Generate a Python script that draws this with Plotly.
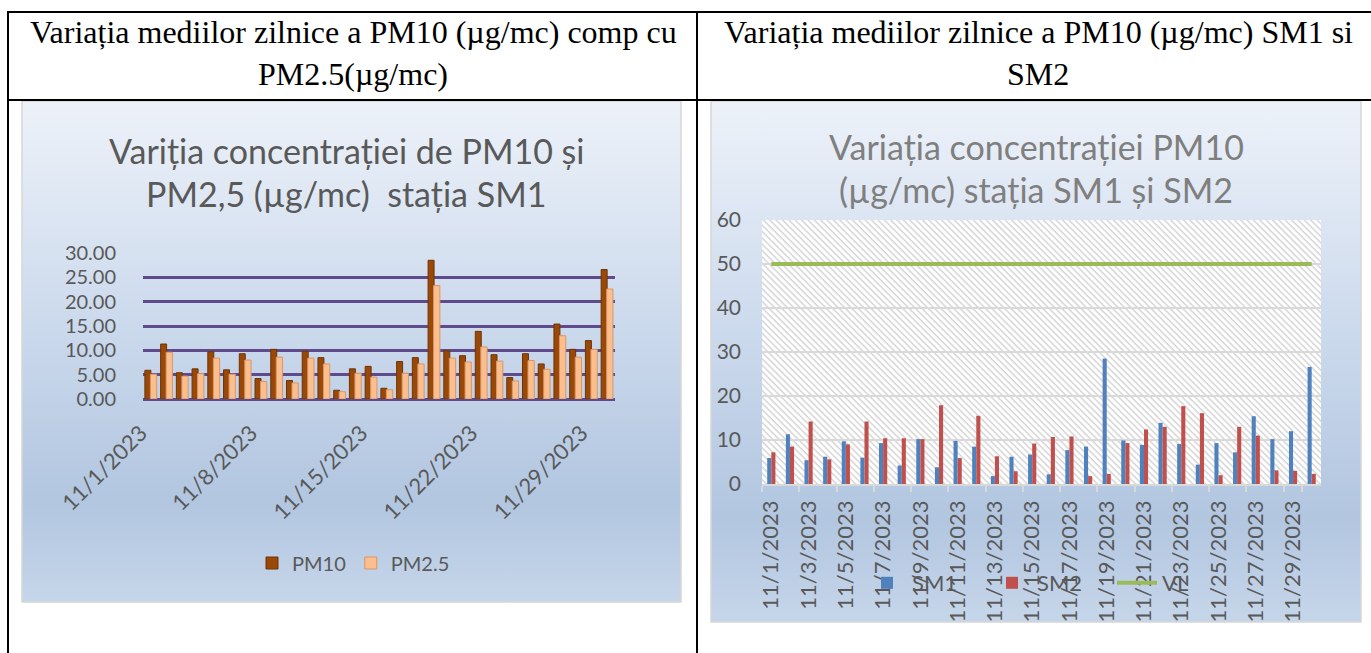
import base64
import plotly.graph_objects as go

# ---------------- data ----------------
dates = [f"11/{d}/2023" for d in range(1, 31)]
left_ticks = ["11/1/2023", "11/8/2023", "11/15/2023", "11/22/2023", "11/29/2023"]
right_ticks = [f"11/{d}/2023" for d in range(1, 31, 2)]

pm10 = [5.9, 11.3, 5.4, 6.2, 9.7, 6.0, 9.3, 4.2, 10.2, 3.8,
        9.8, 8.5, 1.8, 6.2, 6.7, 2.2, 7.7, 8.5, 28.5, 9.9,
        8.9, 13.9, 9.1, 4.4, 9.3, 7.2, 15.4, 10.2, 12.0, 26.6]
pm25 = [5.1, 9.6, 4.7, 5.2, 8.4, 5.1, 8.0, 3.6, 8.6, 3.3,
        8.4, 7.2, 1.5, 5.3, 4.5, 1.9, 5.3, 7.2, 23.3, 8.4,
        7.6, 10.7, 7.8, 3.7, 7.9, 6.1, 13.0, 8.6, 10.2, 22.6]
sm1 = [5.9, 11.3, 5.4, 6.2, 9.7, 6.0, 9.3, 4.2, 10.2, 3.8,
       9.8, 8.5, 1.8, 6.2, 6.7, 2.2, 7.7, 8.5, 28.5, 9.9,
       8.9, 13.9, 9.1, 4.4, 9.3, 7.2, 15.4, 10.2, 12.0, 26.6]
sm2 = [7.2, 8.5, 14.2, 5.6, 9.0, 14.2, 10.4, 10.4, 10.2, 17.9,
       5.9, 15.5, 6.3, 2.9, 9.2, 10.7, 10.8, 1.8, 2.3, 9.3,
       12.4, 13.0, 17.7, 16.1, 2.0, 13.0, 11.0, 3.1, 3.0, 2.3]
vl = [50] * 30

W, H = 1371, 653
def px(x):
    return x / W
def py(y):
    return 1 - y / H

FONT = "Lato, 'Open Sans', sans-serif"
GRAY = "#595959"

fig = go.Figure()

# ---------------- left chart ----------------
fig.add_trace(go.Bar(x=dates, y=pm10, name="PM10", xaxis="x", yaxis="y",
                     marker=dict(color="#9a4807", line=dict(color="#6e3404", width=1)),
                     width=0.38, offset=-0.38, legend="legend"))
fig.add_trace(go.Bar(x=dates, y=pm25, name="PM2.5", xaxis="x", yaxis="y",
                     marker=dict(color="#fbbf8d", line=dict(color="#d9966a", width=1)),
                     width=0.40, offset=-0.03, legend="legend"))

# ---------------- right chart ----------------
fig.add_trace(go.Bar(x=dates, y=sm1, name="SM1", xaxis="x2", yaxis="y2",
                     marker=dict(color="#4f81bd", line=dict(width=0)),
                     width=0.22, offset=-0.22, legend="legend2"))
fig.add_trace(go.Bar(x=dates, y=sm2, name="SM2", xaxis="x2", yaxis="y2",
                     marker=dict(color="#c0504d", line=dict(width=0)),
                     width=0.22, offset=0.0, legend="legend2"))
fig.add_trace(go.Scatter(x=dates, y=vl, name="VL", xaxis="x2", yaxis="y2",
                         mode="lines", line=dict(color="#9bbb59", width=4),
                         legend="legend2"))

# ---------------- backgrounds (gradient panels + hatch) ----------------
def svg_uri(svg):
    return "data:image/svg+xml;base64," + base64.b64encode(svg.encode()).decode()

grad = ('<svg xmlns="http://www.w3.org/2000/svg" viewBox="0 0 100 100" preserveAspectRatio="none" '
        'width="100" height="100"><defs><linearGradient id="g" x1="0" y1="0" x2="0" y2="1">'
        '<stop offset="0" stop-color="#edf2f9"/><stop offset="0.4" stop-color="#cfdcee"/>'
        '<stop offset="0.8" stop-color="#b2c6e0"/><stop offset="1" stop-color="#c6d6ea"/>'
        '</linearGradient></defs><rect width="100" height="100" fill="url(#g)"/></svg>')

hw, hh = 559, 264
hatch = (f'<svg xmlns="http://www.w3.org/2000/svg" viewBox="0 0 {hw} {hh}" width="{hw}" height="{hh}" '
         'preserveAspectRatio="none"><defs><pattern id="p" width="4.5" height="4.5" '
         'patternUnits="userSpaceOnUse" patternTransform="rotate(-45)">'
         '<rect width="4.5" height="4.5" fill="#ffffff"/>'
         '<line x1="1" y1="0" x2="1" y2="4.5" stroke="#cfcfcf" stroke-width="1.3"/></pattern></defs>'
         f'<rect width="{hw}" height="{hh}" fill="url(#p)"/></svg>')

images = []
for (x0, y0, x1, y1) in [(22, 101, 681, 602), (711, 101, 1361, 622)]:
    images.append(dict(source=svg_uri(grad), xref="paper", yref="paper",
                       x=px(x0), y=py(y0), sizex=px(x1) - px(x0), sizey=py(y0) - py(y1),
                       xanchor="left", yanchor="top", sizing="stretch", layer="below"))
images.append(dict(source=svg_uri(hatch), xref="paper", yref="paper",
                   x=px(762), y=py(220), sizex=px(1321) - px(762), sizey=py(220) - py(484),
                   xanchor="left", yanchor="top", sizing="stretch", layer="below"))

# ---------------- table lines + panel borders ----------------
shapes = []
def line(x0, y0, x1, y1, color="black", width=2):
    shapes.append(dict(type="line", xref="paper", yref="paper",
                       x0=px(x0), y0=py(y0), x1=px(x1), y1=py(y1),
                       line=dict(color=color, width=width)))
line(8, 12, W, 12)
line(8, 100, W, 100)
line(8, 11, 8, H)
line(697, 11, 697, H)
for (x0, y0, x1, y1) in [(22, 101, 681, 602), (711, 101, 1361, 622)]:
    shapes.append(dict(type="rect", xref="paper", yref="paper",
                       x0=px(x0), y0=py(y0), x1=px(x1), y1=py(y1),
                       line=dict(color="#d6d6d6", width=1.5), layer="below"))

# ---------------- texts ----------------
annotations = []
def text(x, y, s, size, color, family, xanchor="center"):
    annotations.append(dict(text=s, xref="paper", yref="paper", x=px(x), y=py(y),
                            xanchor=xanchor, yanchor="middle", showarrow=False,
                            font=dict(size=size, color=color, family=family)))
SERIF = "'Liberation Serif', 'Times New Roman', serif"
text(353, 32, "Variația mediilor zilnice a PM10 (µg/mc) comp cu", 32, "black", SERIF)
text(353, 74, "PM2.5(µg/mc)", 32, "black", SERIF)
text(1038, 32, "Variația mediilor zilnice a PM10 (µg/mc) SM1 si", 32, "black", SERIF)
text(1038, 74, "SM2", 32, "black", SERIF)
text(346, 151, "Variția concentrației de PM10 și", 34, GRAY, FONT)
text(346, 193, "PM2,5 (µg/mc)  stația SM1", 34, GRAY, FONT)
text(1036, 146, "Variația concentrației PM10", 34, "#7f7f7f", FONT)
text(1036, 189, "(µg/mc) stația SM1 și SM2", 34, "#7f7f7f", FONT)

fig.update_layout(
    width=W, height=H, margin=dict(l=0, r=0, t=0, b=0, pad=0, autoexpand=False),
    paper_bgcolor="white", plot_bgcolor="rgba(0,0,0,0)",
    barmode="overlay", font=dict(family=FONT, color=GRAY),
    images=images, shapes=shapes, annotations=annotations,
    xaxis=dict(domain=[px(143), px(615)], type="category", categoryorder="array",
               categoryarray=dates, tickmode="array", tickvals=left_ticks, ticktext=left_ticks,
               tickangle=-45, tickfont=dict(size=22, color=GRAY), showgrid=False,
               showline=False, ticks="", zeroline=False, ticklabelstandoff=16,
               ticklabelshift=-10, automargin=False),
    yaxis=dict(domain=[py(399), py(253)], range=[0, 30], dtick=5, tickformat=".2f",
               tickfont=dict(size=20, color=GRAY), showgrid=True, gridcolor="#5f4b8b",
               gridwidth=2.5, zeroline=True, zerolinecolor="#5f4b8b", zerolinewidth=2.5,
               showline=False, ticks="", ticklabelstandoff=26, automargin=False),
    xaxis2=dict(domain=[px(762), px(1321)], type="category", categoryorder="array",
                categoryarray=dates, tickmode="array", tickvals=right_ticks, ticktext=right_ticks,
                tickson="boundaries", tickangle=-90, tickfont=dict(size=22, color=GRAY),
                showgrid=False, showline=True, linecolor="#d9d9d9", linewidth=1.5,
                ticks="outside", ticklen=6, tickcolor="#d9d9d9", tickwidth=1.5,
                zeroline=False, anchor="y2", ticklabelstandoff=6, automargin=False),
    yaxis2=dict(domain=[py(484), py(220)], range=[0, 60], dtick=10, anchor="x2",
                tickfont=dict(size=21, color=GRAY), showgrid=True, gridcolor="#d9d9d9",
                gridwidth=1.5, zeroline=False, showline=False, ticks="",
                ticklabelstandoff=20, automargin=False),
    legend=dict(orientation="h", x=px(252), y=py(563), xanchor="left", yanchor="middle",
                bgcolor="rgba(0,0,0,0)", font=dict(size=20, color=GRAY, family=FONT),
                itemwidth=30, traceorder="normal"),
    legend2=dict(orientation="h", x=px(862), y=py(583), xanchor="left", yanchor="middle",
                 bgcolor="rgba(0,0,0,0)", font=dict(size=22, color=GRAY, family=FONT),
                 itemwidth=40, traceorder="normal", entrywidth=70, entrywidthmode="pixels"),
)

fig.write_html("out.html", config={"displayModeBar": False},
               post_script="document.body.style.margin='0';")
